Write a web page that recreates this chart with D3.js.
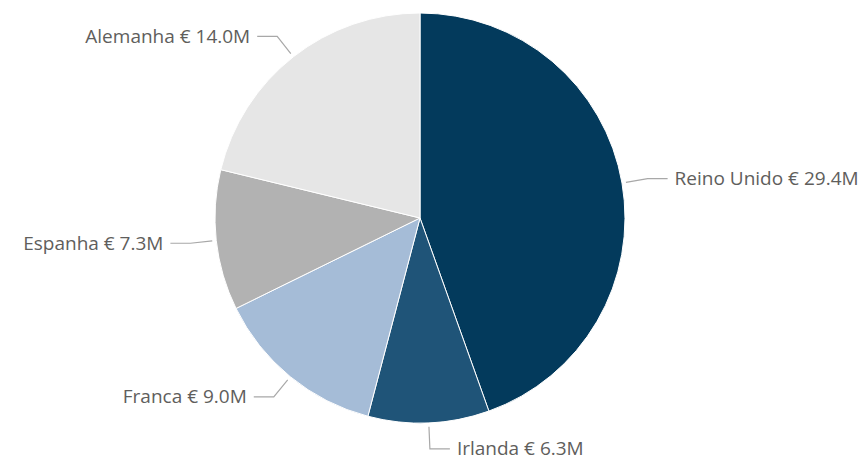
<!doctype html>
<html>
<head>
    <meta charset="utf-8">
    <title>pie</title>
    <script src="https://d3js.org/d3.v7.min.js"></script>
</head>

<style>
    body { margin: 0; background: #fff; }
    .label { font: 19px "Open Sans", sans-serif; fill: #605e5c; }
</style>

<body>
    <script>

    // chart data
    var countries = ['Reino Unido', 'Irlanda', 'Franca', 'Espanha', 'Alemanha'];
    var values = [29.4, 6.3, 9.0, 7.3, 14.0];
    var colors = ['#033a5c', '#1f5478', '#a5bcd7', '#b2b2b2', '#e6e6e6'];

    // canvas parameters
    var canvasWidth = 865;
    var canvasHeight = 462;
    var cx = 420;
    var cy = 218;
    var radius = 205;

    var svg = d3.select('body')
                .append('svg')
                .attr('width', canvasWidth)
                .attr('height', canvasHeight);

    var g = svg.append('g')
               .attr('transform', 'translate(' + cx + ',' + cy + ')');

    var data = countries.map(function(c, i) { return { name: c, value: values[i], color: colors[i] }; });

    var pie = d3.pie()
                .sort(null)
                .value(function(d) { return d.value; });

    var arc = d3.arc()
                .innerRadius(0)
                .outerRadius(radius);

    var arcs = pie(data);

    // slices
    g.selectAll('path.slice')
     .data(arcs)
     .enter()
     .append('path')
     .attr('class', 'slice')
     .attr('d', arc)
     .attr('fill', function(d) { return d.data.color; })
     .attr('stroke', '#fff')
     .attr('stroke-width', 1);

    // leader lines and labels
    function polar(angle, r) {
        return [r * Math.sin(angle), -r * Math.cos(angle)];
    }

    arcs.forEach(function(d) {
        var mid = (d.startAngle + d.endAngle) / 2;
        var p0 = polar(mid, radius + 4);
        var p1 = polar(mid, radius + 26);
        var right = Math.sin(mid) >= 0;
        var p2 = [p1[0] + (right ? 20 : -20), p1[1]];

        g.append('polyline')
         .attr('points', [p0, p1, p2].map(function(p) { return p.join(','); }).join(' '))
         .attr('fill', 'none')
         .attr('stroke', '#a8a8a8')
         .attr('stroke-width', 1.2);

        g.append('text')
         .attr('class', 'label')
         .attr('x', p2[0] + (right ? 7 : -7))
         .attr('y', p2[1])
         .attr('dy', '0.35em')
         .style('text-anchor', right ? 'start' : 'end')
         .text(d.data.name + ' € ' + d.data.value.toFixed(1) + 'M');
    });

    </script>
</body>
</html>
